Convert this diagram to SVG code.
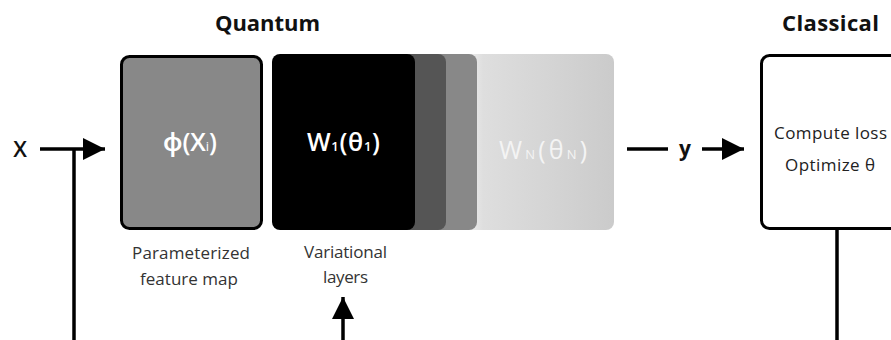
<svg xmlns="http://www.w3.org/2000/svg" width="891" height="340" viewBox="0 0 891 340">
<defs>
<style>
text{font-family:"Open Sans","Noto Sans",sans-serif}
.title{font-size:22px;font-weight:bold;fill:#111}
.lbl{font-size:17px;fill:#333}
.box{font-size:25px;font-weight:600;fill:#fff}
.ln{stroke:#000;stroke-width:3.5;fill:none}
.sub{font-size:13px}
</style>
<linearGradient id="lg" x1="0" y1="0" x2="1" y2="0">
<stop offset="0" stop-color="#f6f6f6"/>
<stop offset="0.15" stop-color="#dedede"/>
<stop offset="1" stop-color="#cbcbcb"/>
</linearGradient>
<marker id="ah" viewBox="0 0 10 10" refX="10" refY="5" markerWidth="22" markerHeight="22" markerUnits="userSpaceOnUse" orient="auto">
<path d="M0,0 L10,5 L0,10 Z" fill="#000"/>
</marker>
</defs>
<text class="title" x="215" y="31" textLength="105">Quantum</text>
<text class="title" x="782" y="31" textLength="97">Classical</text>

<g id="featuremap">
<rect x="121.5" y="56.5" width="140" height="172" rx="8" fill="#888" stroke="#000" stroke-width="3"/>
<text class="box" x="163" y="151" textLength="54">ϕ(X<tspan class="sub" font-weight="normal">i</tspan>)</text>
<text class="lbl" x="132" y="259" textLength="118">Parameterized</text>
<text class="lbl" x="140" y="285" textLength="98">feature map</text>
</g>

<g id="layerN">
<rect x="460" y="54" width="154" height="176" rx="8" fill="url(#lg)"/>
<text class="box" x="499" y="159" textLength="88" style="fill:#f4f4f4;font-weight:normal">W<tspan class="sub">N</tspan>(θ<tspan class="sub">N</tspan>)</text>
</g>
<g id="layer3">
<rect x="400" y="54" width="77" height="176" rx="8" fill="#888"/>
</g>
<g id="layer2">
<rect x="380" y="54" width="66" height="176" rx="8" fill="#555"/>
</g>
<g id="layer1">
<rect x="272" y="54" width="143" height="176" rx="8" fill="#000"/>
<text class="box" x="307" y="151" textLength="73">W<tspan class="sub">1</tspan>(θ<tspan class="sub">1</tspan>)</text>
<text class="lbl" x="304" y="258" textLength="83">Variational</text>
<text class="lbl" x="323" y="283" textLength="45">layers</text>
</g>

<g id="classical">
<rect x="761.5" y="55.5" width="160" height="173" rx="8" fill="#fff" stroke="#000" stroke-width="3"/>
<text class="lbl" x="774" y="139" textLength="113" style="fill:#222">Compute loss</text>
<text class="lbl" x="785" y="171" textLength="90" style="fill:#222">Optimize θ</text>
</g>

<g id="connectors">
<text x="20" y="157" text-anchor="middle" style="font-size:22px;font-weight:600;fill:#111">X</text>
<path class="ln" d="M40,149 H105" marker-end="url(#ah)"/>
<path class="ln" d="M74,149 V340"/>
<path class="ln" d="M627,149 H668"/>
<text x="685" y="156" text-anchor="middle" style="font-size:21px;font-weight:bold;fill:#111">y</text>
<path class="ln" d="M702,149 H744" marker-end="url(#ah)"/>
<path class="ln" d="M837,229 V340"/>
<path class="ln" d="M343,340 V297" marker-end="url(#ah)"/>
</g>
</svg>
